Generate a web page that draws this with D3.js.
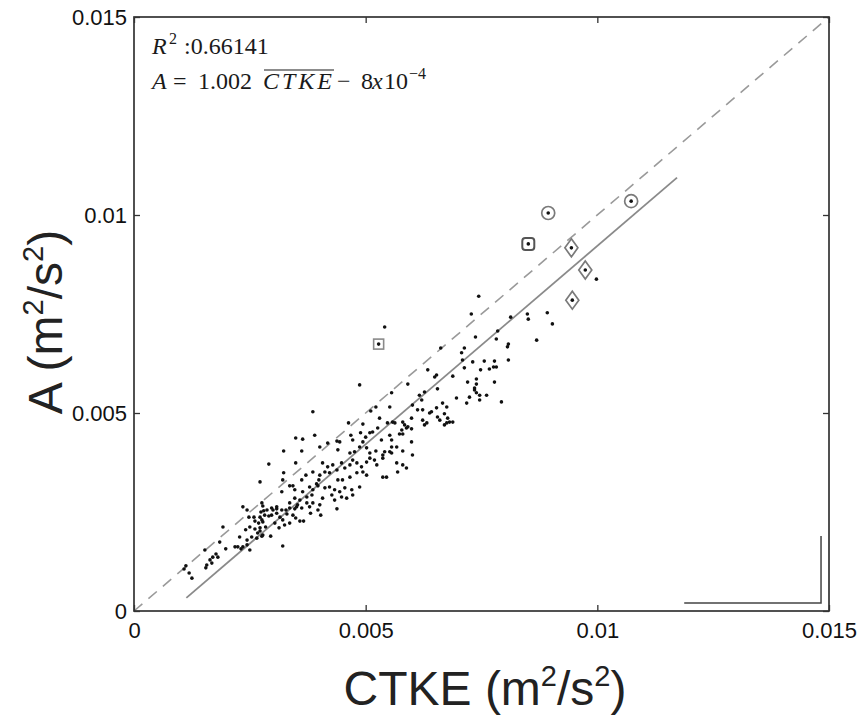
<!DOCTYPE html>
<html><head><meta charset="utf-8">
<script src="https://cdn.jsdelivr.net/npm/d3@7/dist/d3.min.js"></script>
<style>body{margin:0;background:#fff}svg{display:block}</style>
</head><body><svg id="chart" width="866" height="715"></svg>
<script>
// ---------- data (m^2/s^2) ----------
const tickValues = [0, 0.005, 0.01, 0.015];
const tickLabels = ["0", "0.005", "0.01", "0.015"];
// [CTKE, A] observations
const observations = [
[0.00108,0.00106],[0.00112,0.00114],[0.00119,0.00096],[0.00125,0.00083],[0.00153,0.00154],[0.00157,0.00116],[0.00155,0.00109],[0.00164,0.00129],[0.00168,0.00121],[0.00170,0.00136],[0.00177,0.00144],[0.00181,0.00136],[0.00185,0.00174],[0.00192,0.00212],[0.00198,0.00157],[0.00218,0.00162],[0.00224,0.00162],[0.00231,0.00157],[0.00235,0.00162],[0.00244,0.00167],[0.00250,0.00154],[0.00228,0.00187],[0.00244,0.00179],[0.00254,0.00187],[0.00265,0.00184],[0.00276,0.00189],[0.00241,0.00205],[0.00250,0.00212],[0.00261,0.00207],[0.00272,0.00210],[0.00284,0.00212],[0.00272,0.00202],[0.00267,0.00197],[0.00278,0.00192],[0.00261,0.00227],[0.00269,0.00222],[0.00278,0.00225],[0.00248,0.00237],[0.00259,0.00237],[0.00272,0.00237],[0.00282,0.00242],[0.00291,0.00240],[0.00276,0.00230],[0.00235,0.00263],[0.00244,0.00255],[0.00274,0.00250],[0.00280,0.00253],[0.00287,0.00255],[0.00276,0.00273],[0.00278,0.00265],[0.00272,0.00326],[0.00291,0.00371],
[0.00386,0.00503],[0.00511,0.00505],[0.00522,0.00515],[0.00463,0.00475],[0.00494,0.00472],[0.00390,0.00444],[0.00349,0.00437],[0.00364,0.00434],[0.00438,0.00429],[0.00468,0.00444],[0.00472,0.00432],[0.00489,0.00450],[0.00494,0.00427],[0.00509,0.00450],[0.00515,0.00452],[0.00323,0.00404],[0.00362,0.00404],[0.00401,0.00414],[0.00418,0.00424],[0.00440,0.00407],[0.00466,0.00399],[0.00476,0.00402],[0.00487,0.00414],[0.00502,0.00412],[0.00509,0.00399],[0.00522,0.00404],
[0.00407,0.00374],[0.00418,0.00364],[0.00429,0.00369],[0.00438,0.00356],[0.00448,0.00374],[0.00455,0.00361],[0.00466,0.00369],[0.00472,0.00381],[0.00481,0.00374],[0.00491,0.00364],[0.00502,0.00376],[0.00509,0.00386],[0.00519,0.00381],[0.00524,0.00369],
[0.00349,0.00374],[0.00323,0.00349],[0.00321,0.00331],[0.00362,0.00331],
[0.00386,0.00351],[0.00401,0.00343],[0.00412,0.00351],[0.00422,0.00349],[0.00440,0.00331],[0.00450,0.00331],[0.00466,0.00338],[0.00481,0.00349],[0.00494,0.00351],[0.00502,0.00343],
[0.00379,0.00313],[0.00386,0.00306],[0.00397,0.00316],[0.00412,0.00311],[0.00422,0.00313],[0.00433,0.00306],[0.00444,0.00301],[0.00455,0.00311],[0.00470,0.00306],[0.00487,0.00313],
[0.00336,0.00316],[0.00347,0.00306],[0.00364,0.00301],[0.00373,0.00288],[0.00384,0.00293],[0.00407,0.00285],[0.00427,0.00293],[0.00433,0.00280],[0.00448,0.00288],[0.00459,0.00285],
[0.00347,0.00285],[0.00358,0.00280],[0.00351,0.00263],[0.00308,0.00263],[0.00336,0.00273],[0.00297,0.00260],
[0.00371,0.00343],[0.00343,0.00316],[0.00319,0.00301],[0.00394,0.00321],[0.00399,0.00331],
[0.00526,0.00462],[0.00500,0.00439],[0.00444,0.00427],[0.00472,0.00293],
[0.00300,0.00255],[0.00308,0.00258],[0.00319,0.00255],[0.00328,0.00255],[0.00336,0.00260],[0.00347,0.00258],[0.00353,0.00268],[0.00362,0.00260],[0.00373,0.00273],[0.00379,0.00263],[0.00386,0.00273],[0.00397,0.00255],[0.00401,0.00268],[0.00403,0.00242],[0.00381,0.00247],[0.00297,0.00242],[0.00308,0.00247],[0.00315,0.00237],[0.00321,0.00230],[0.00330,0.00245],[0.00343,0.00242],[0.00349,0.00235],[0.00358,0.00227],[0.00366,0.00227],[0.00304,0.00222],[0.00325,0.00217],[0.00336,0.00222],[0.00313,0.00210],[0.00295,0.00189],[0.00321,0.00164],[0.00438,0.00258],
[0.00634,0.00609],[0.00649,0.00591],[0.00653,0.00596],[0.00591,0.00573],[0.00556,0.00551],[0.00655,0.00561],[0.00616,0.00545],[0.00627,0.00553],[0.00621,0.00533],[0.00601,0.00520],[0.00552,0.00515],[0.00666,0.00525],[0.00675,0.00515],[0.00653,0.00513],[0.00612,0.00508],[0.00623,0.00508],[0.00638,0.00500],[0.00642,0.00503],[0.00655,0.00490],[0.00660,0.00482],[0.00670,0.00498],[0.00677,0.00487],[0.00681,0.00477],[0.00688,0.00477],[0.00675,0.00475],[0.00670,0.00470],[0.00623,0.00482],[0.00627,0.00470],[0.00632,0.00475],[0.00599,0.00487],[0.00580,0.00477],[0.00584,0.00470],[0.00588,0.00462],[0.00591,0.00465],[0.00578,0.00457],[0.00599,0.00460],[0.00558,0.00477],[0.00547,0.00475],[0.00563,0.00475],[0.00573,0.00447],[0.00580,0.00447],[0.00552,0.00444],[0.00556,0.00432],[0.00534,0.00432],[0.00599,0.00427],[0.00556,0.00414],[0.00567,0.00414],[0.00580,0.00404],[0.00552,0.00402],[0.00541,0.00402],[0.00537,0.00394],[0.00556,0.00399],[0.00601,0.00394],
[0.00735,0.00558],[0.00739,0.00551],[0.00724,0.00540],[0.00746,0.00545],[0.00761,0.00545],[0.00746,0.00533],[0.00696,0.00538],[0.00718,0.00525],[0.00793,0.00528],
[0.00530,0.00487],[0.00567,0.00374],[0.00580,0.00369],[0.00588,0.00361],[0.00537,0.00338],[0.00545,0.00338],[0.00569,0.00351],[0.00537,0.00386],
[0.00744,0.00795],[0.00728,0.00750],[0.00813,0.00742],[0.00849,0.00750],[0.00851,0.00737],[0.00892,0.00753],[0.00903,0.00725],[0.00998,0.00838],[0.00785,0.00707],[0.00782,0.00687],[0.00737,0.00692],[0.00869,0.00684],[0.00808,0.00674],[0.00806,0.00667],[0.00713,0.00664],[0.00707,0.00652],[0.00662,0.00664],[0.00709,0.00634],[0.00731,0.00629],[0.00756,0.00631],[0.00778,0.00631],[0.00808,0.00634],[0.00713,0.00614],[0.00748,0.00609],[0.00767,0.00611],[0.00776,0.00616],[0.00782,0.00616],[0.00688,0.00593],[0.00720,0.00578],[0.00739,0.00586],[0.00739,0.00573],[0.00735,0.00563],[0.00778,0.00578],
[0.00541,0.00717],[0.00487,0.00571]
];
const circled = [[0.00894,0.01005],[0.01073,0.01035]];
const boxedRound = [[0.00851,0.00927]];
const diamonds = [[0.00944,0.00917],[0.00974,0.00861],[0.00946,0.00785]];
const boxed = [[0.00528,0.00674]];
const fitSlope = 1.002, fitIntercept = -8e-4, fitRange = [0.00113, 0.01172];
const identityRange = [0, 0.015];
const cornerMark = {x0: 0.011875, x1: 0.014828, y0: 0.000202, y1: 0.001894};

// ---------- layout ----------
const svg = d3.select("#chart");
const L = 134, R = 829, T = 17, B = 611;
const x = d3.scaleLinear().domain([0, 0.015]).range([L, R]);
const y = d3.scaleLinear().domain([0, 0.015]).range([B, T]);
const frameColor = "#333";
const sans = "'Liberation Sans', Arial, sans-serif";
const serif = "'Liberation Serif', 'Times New Roman', serif";

// reference lines
const line = d3.line().x(d => x(d[0])).y(d => y(d[1]));
svg.append("path")
  .attr("d", line(identityRange.map(v => [v, v])))
  .attr("fill", "none").attr("stroke", "#9a9a9a").attr("stroke-width", 1.6)
  .attr("stroke-dasharray", "11,8");
svg.append("path")
  .attr("d", line(fitRange.map(v => [v, fitSlope * v + fitIntercept])))
  .attr("fill", "none").attr("stroke", "#8a8a8a").attr("stroke-width", 1.8);

// scatter points
svg.append("g").selectAll("circle").data(observations).join("circle")
  .attr("cx", d => x(d[0])).attr("cy", d => y(d[1])).attr("r", 1.8)
  .attr("fill", "#111");

// highlighted points
const hl = svg.append("g");
hl.selectAll(".c").data(circled).join("circle")
  .attr("cx", d => x(d[0])).attr("cy", d => y(d[1])).attr("r", 6.5)
  .attr("fill", "none").attr("stroke", "#7a7a7a").attr("stroke-width", 1.7);
hl.selectAll(".rs").data(boxedRound).join("rect")
  .attr("x", d => x(d[0]) - 6).attr("y", d => y(d[1]) - 6)
  .attr("width", 12).attr("height", 12).attr("rx", 3)
  .attr("fill", "none").attr("stroke", "#555").attr("stroke-width", 2);
hl.selectAll(".sq").data(boxed).join("rect")
  .attr("x", d => x(d[0]) - 5).attr("y", d => y(d[1]) - 5)
  .attr("width", 10).attr("height", 10)
  .attr("fill", "none").attr("stroke", "#8a8a8a").attr("stroke-width", 1.6);
hl.selectAll(".dm").data(diamonds).join("path")
  .attr("d", d => { const cx = x(d[0]), cy = y(d[1]);
    return `M${cx},${cy-9}L${cx+6.5},${cy}L${cx},${cy+9}L${cx-6.5},${cy}Z`; })
  .attr("fill", "none").attr("stroke", "#7a7a7a").attr("stroke-width", 1.7);
hl.selectAll(".dot").data([...circled, ...boxedRound, ...diamonds, ...boxed]).join("circle")
  .attr("cx", d => x(d[0])).attr("cy", d => y(d[1])).attr("r", 1.8).attr("fill", "#111");

// corner mark (bottom-right)
svg.append("path")
  .attr("d", `M${x(cornerMark.x0)},${y(cornerMark.y0)}H${x(cornerMark.x1)}V${y(cornerMark.y1)}`)
  .attr("fill", "none").attr("stroke", "#444").attr("stroke-width", 1.5);

// frame
svg.append("rect").attr("x", L).attr("y", T).attr("width", R - L).attr("height", B - T)
  .attr("fill", "none").attr("stroke", frameColor).attr("stroke-width", 1.7);

// axes
function styleAxis(g) {
  g.select(".domain").remove();
  g.selectAll(".tick line").attr("stroke", frameColor).attr("stroke-width", 1.3);
  g.selectAll(".tick text").attr("fill", "#111").style("font-family", sans).style("font-size", "22px");
}
const fmt = (d, i) => tickLabels[i];
svg.append("g").attr("transform", `translate(0,${B})`)
  .call(d3.axisBottom(x).tickValues(tickValues).tickFormat(fmt).tickSizeInner(-6).tickSizeOuter(0).tickPadding(11))
  .call(styleAxis);
svg.append("g").attr("transform", `translate(${L},0)`)
  .call(d3.axisLeft(y).tickValues(tickValues).tickFormat(fmt).tickSizeInner(-6).tickSizeOuter(0).tickPadding(7))
  .call(styleAxis);
svg.append("g").attr("transform", `translate(0,${T})`)
  .call(d3.axisTop(x).tickValues(tickValues).tickFormat("").tickSizeInner(-6).tickSizeOuter(0))
  .call(styleAxis);
svg.append("g").attr("transform", `translate(${R},0)`)
  .call(d3.axisRight(y).tickValues(tickValues).tickFormat("").tickSizeInner(-6).tickSizeOuter(0))
  .call(styleAxis);

// axis titles
function unitTitle(sel, main) {
  sel.append("tspan").text(main + " (m");
  sel.append("tspan").text("2").attr("font-size", 29).attr("dy", -19);
  sel.append("tspan").text("/s").attr("dy", 19);
  sel.append("tspan").text("2").attr("font-size", 29).attr("dy", -19);
  sel.append("tspan").text(")").attr("dy", 19);
}
svg.append("text").attr("x", 485).attr("y", 705)
  .attr("text-anchor", "middle").attr("fill", "#222")
  .style("font-family", sans).style("font-size", "48px")
  .call(unitTitle, "CTKE");
svg.append("text").attr("transform", `translate(62,322) rotate(-90)`)
  .attr("text-anchor", "middle").attr("fill", "#222")
  .style("font-family", sans).style("font-size", "48px")
  .call(unitTitle, "A");

// annotation (LaTeX-like)
const ann = svg.append("g").style("font-family", serif).attr("fill", "#1a1a1a");
const t1 = ann.append("text").attr("y", 54).style("font-size", "24px");
t1.append("tspan").attr("x", 152).text("R").style("font-style", "italic");
t1.append("tspan").attr("x", 169).attr("dy", -10).attr("font-size", 16).text("2");
t1.append("tspan").attr("x", 184).attr("dy", 10).text(":0.66141");

const t2 = ann.append("text").attr("y", 89).style("font-size", "24px");
t2.append("tspan").attr("x", 152).text("A").style("font-style", "italic");
t2.append("tspan").attr("x", 173).text("=");
t2.append("tspan").attr("x", 198).text("1.002");
t2.append("tspan").attr("x", 263).text("CTKE").style("font-style", "italic").style("letter-spacing", "3px");
t2.append("tspan").attr("x", 337).text("\u2212");
t2.append("tspan").attr("x", 361).text("8");
t2.append("tspan").attr("x", 372).text("x").style("font-style", "italic");
t2.append("tspan").attr("x", 384).text("10");
t2.append("tspan").attr("x", 409).attr("dy", -10).attr("font-size", 16).text("\u22124");
ann.append("line").attr("x1", 264).attr("x2", 334).attr("y1", 70).attr("y2", 70)
  .attr("stroke", "#1a1a1a").attr("stroke-width", 1.1);
</script></body></html>
